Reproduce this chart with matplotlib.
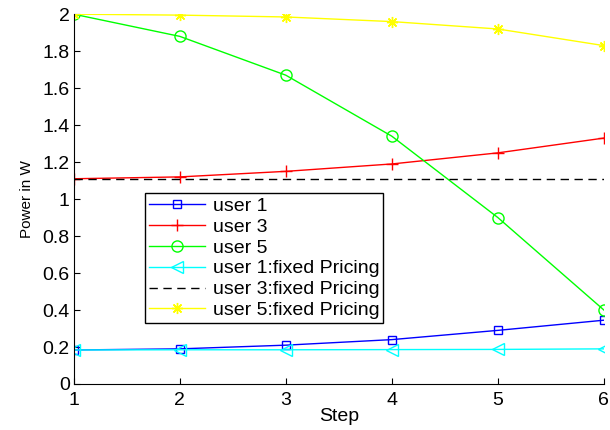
import numpy as np
import matplotlib
matplotlib.use('Agg')
import matplotlib.pyplot as plt

plt.rcParams['font.family'] = ['Liberation Sans', 'DejaVu Sans']

# data
steps = [1, 2, 3, 4, 5, 6]
user1 = [0.184, 0.19, 0.21, 0.24, 0.29, 0.345]
user3 = [1.11, 1.12, 1.15, 1.19, 1.25, 1.33]
user5 = [2.0, 1.88, 1.67, 1.34, 0.90, 0.40]
user1_fixed = [0.184, 0.185, 0.185, 0.186, 0.187, 0.19]
user3_fixed = [1.11, 1.11, 1.11, 1.11, 1.11, 1.11]
user5_fixed = [2.0, 1.995, 1.985, 1.96, 1.92, 1.83]

fig = plt.figure(figsize=(6.1, 4.3), dpi=100)
ax = fig.add_axes([0.121, 0.107, 0.869, 0.86])

ax.plot(steps, user1, color='#0000ff', marker='s', mfc='none', ms=6, lw=1, label='user 1')
ax.plot(steps, user3, color='#ff0000', marker='+', ms=8, lw=1, label='user 3')
ax.plot(steps, user5, color='#00ff00', marker='o', mfc='none', ms=8, lw=1, label='user 5')
ax.plot(steps, user1_fixed, color='#00ffff', marker='<', mfc='none', ms=8, lw=1,
        label='user 1:fixed Pricing')
ax.plot(steps, user3_fixed, color='black', ls=(0, (6, 4)), lw=1, label='user 3:fixed Pricing')
ax.plot(steps, user5_fixed, color='#ffff00', marker=(8, 2, 0), ms=8, mew=1, lw=1,
        label='user 5:fixed Pricing')

ax.set_xlim(1, 6)
ax.set_ylim(0, 2)
ax.set_xticks(steps)
ax.set_yticks(np.arange(0, 2.01, 0.2))
ax.set_yticklabels(['0', '0.2', '0.4', '0.6', '0.8', '1', '1.2', '1.4', '1.6', '1.8', '2'])
ax.tick_params(direction='in', labelsize=14, length=4)
ax.tick_params(axis='y', pad=3)
ax.tick_params(axis='x', pad=6)
ax.spines['top'].set_visible(False)
ax.spines['right'].set_visible(False)
ax.set_xlabel('Step', fontsize=14, labelpad=-1)
ax.set_ylabel('Power in W', fontsize=11, labelpad=6)

leg = ax.legend(loc='upper left', bbox_to_anchor=(0.134, 0.516), fontsize=14,
                frameon=True, fancybox=False, edgecolor='black', framealpha=1,
                borderpad=0.2, labelspacing=0.17, handlelength=2.9, handletextpad=0.4,
                borderaxespad=0)
leg.get_frame().set_linewidth(1)

fig.savefig('out.png', dpi=100)
